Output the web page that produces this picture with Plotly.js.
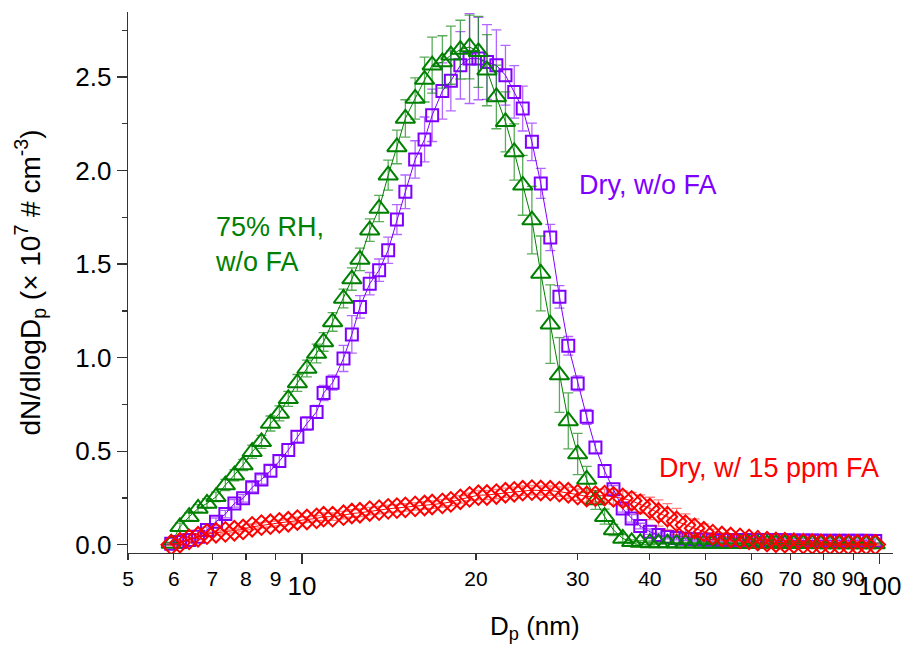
<!DOCTYPE html>
<html>
<head>
<meta charset="utf-8">
<script src="https://cdn.plot.ly/plotly-3.0.1.min.js"></script>
<style>html,body{margin:0;padding:0;background:#fff}#chart{width:917px;height:645px}</style>
</head>
<body>
<div id="chart"></div>
<script>
// Particle diameter bins (nm)
const diameters = [5.94,6.15,6.38,6.61,6.85,7.10,7.37,7.64,7.91,8.20,8.51,8.82,9.14,9.47,9.82,
  10.2,10.6,10.9,11.3,11.8,12.2,12.6,13.1,13.6,14.1,14.6,15.1,15.7,16.3,16.8,17.5,18.1,18.8,19.5,
  20.2,20.9,21.7,22.5,23.3,24.1,25.0,25.9,26.9,27.9,28.9,30.0,31.1,32.2,33.4,34.6,35.9,37.2,38.5,
  40.0,41.4,42.9,44.5,46.1,47.8,49.6,51.4,53.3,55.2,57.3,59.4,61.5,63.8,66.1,68.5,71.0,73.7,76.4,
  79.1,82.0,85.1,88.2,91.4,94.7,98.2];

// Dry, w/o FA (x 10^7 # cm^-3)
const dryNoFA = [0.005,0.015,0.025,0.043,0.079,0.123,0.164,0.221,0.248,0.307,0.349,0.395,0.447,0.506,0.577,
  0.648,0.710,0.811,0.866,0.996,1.124,1.271,1.395,1.467,1.574,1.738,1.886,2.059,2.166,2.295,2.425,2.479,2.562,2.598,
  2.598,2.580,2.562,2.509,2.420,2.331,2.153,1.931,1.642,1.325,1.063,0.862,0.684,0.520,0.394,0.296,0.194,0.141,0.100,
  0.070,0.052,0.042,0.036,0.032,0.030,0.028,0.027,0.026,0.026,0.025,0.025,0.025,0.024,0.024,0.024,0.023,0.023,0.023,
  0.022,0.022,0.022,0.021,0.021,0.021,0.020];
const dryNoFAErr = [0.005,0.01,0.01,0.015,0.015,0.02,0.02,0.02,0.02,0.025,0.025,0.03,0.03,0.03,0.03,
  0.035,0.035,0.04,0.04,0.07,0.10,0.06,0.06,0.06,0.07,0.08,0.09,0.10,0.12,0.14,0.15,0.16,0.18,0.24,
  0.22,0.20,0.19,0.16,0.14,0.12,0.10,0.08,0.07,0.06,0.05,0.04,0.04,0.03,0.03,0.02,0.02,0.02,0.015,
  0.015,0.01,0.01,0.01,0.01,0.01,0.01,0.01,0.01,0.01,0.01,0.01,0.01,0.01,0.01,0.01,0.01,0.01,0.01,
  0.01,0.01,0.01,0.01,0.01,0.01,0.01];

// 75% RH, w/o FA
const rhNoFA = [0.007,0.096,0.150,0.194,0.221,0.256,0.319,0.372,0.426,0.497,0.550,0.648,0.702,0.780,0.865,
  0.942,1.022,1.084,1.191,1.316,1.420,1.525,1.681,1.797,1.975,2.126,2.278,2.385,2.486,2.563,2.580,2.616,2.646,2.660,
  2.634,2.536,2.393,2.260,2.099,1.921,1.735,1.450,1.179,0.907,0.662,0.485,0.349,0.239,0.150,0.079,0.034,0.016,0.012,
  0.010,0.009,0.009,0.008,0.008,0.008,0.007,0.007,0.007,0.006,0.006,0.006,0.006,0.005,0.005,0.005,0.005,0.005,0.005,
  0.004,0.004,0.004,0.004,0.004,0.004,0.004];
const rhNoFAErr = [0.005,0.02,0.02,0.02,0.025,0.025,0.03,0.03,0.03,0.035,0.035,0.04,0.04,0.04,0.045,
  0.045,0.05,0.05,0.05,0.05,0.06,0.06,0.06,0.07,0.08,0.09,0.10,0.11,0.12,0.15,0.14,0.155,0.157,0.17,
  0.19,0.19,0.17,0.16,0.15,0.16,0.18,0.20,0.21,0.20,0.15,0.11,0.07,0.05,0.04,0.03,0.02,0.01,0.01,
  0.01,0.005,0.005,0.005,0.005,0.005,0.005,0.005,0.005,0.005,0.005,0.005,0.005,0.005,0.005,0.005,0.005,0.005,0.005,
  0.005,0.005,0.005,0.005,0.005,0.005,0.005];

// Dry, w/ 15 ppm FA
const dryFA = [0.000,0.011,0.029,0.043,0.057,0.064,0.069,0.075,0.082,0.096,0.105,0.110,0.117,0.123,0.132,
  0.135,0.141,0.150,0.150,0.158,0.167,0.171,0.180,0.185,0.192,0.196,0.200,0.205,0.210,0.215,0.221,0.229,0.243,0.256,
  0.265,0.266,0.271,0.278,0.283,0.289,0.292,0.290,0.289,0.284,0.278,0.268,0.258,0.260,0.263,0.256,0.248,0.235,0.217,
  0.194,0.170,0.150,0.125,0.105,0.088,0.070,0.054,0.044,0.039,0.034,0.029,0.022,0.017,0.013,0.011,0.008,0.006,0.004,
  0.003,0.002,0.002,0.001,0.001,0.001,0.001];
const dryFAErr = [0.005,0.01,0.01,0.01,0.01,0.01,0.01,0.01,0.01,0.015,0.015,0.015,0.015,0.015,0.015,
  0.015,0.015,0.02,0.02,0.02,0.02,0.02,0.02,0.02,0.02,0.02,0.02,0.02,0.02,0.02,0.02,0.02,0.02,0.02,
  0.025,0.025,0.025,0.025,0.025,0.025,0.025,0.025,0.025,0.025,0.03,0.03,0.03,0.03,0.035,0.04,0.04,0.045,0.05,
  0.06,0.07,0.07,0.07,0.06,0.05,0.04,0.03,0.02,0.02,0.015,0.015,0.01,0.01,0.01,0.01,0.01,0.01,0.01,
  0.005,0.005,0.005,0.005,0.005,0.005,0.005];

const smallTicks = [5,6,7,8,9,20,30,40,50,60,70,80,90];
const bigTicks = [10,100];

const PURPLE = '#8000ff', GREEN = '#008000', RED = '#ff0000';
const FONT = 'Arial, "Liberation Sans", sans-serif';

function series(y, err, color, errColor, symbol, size) {
  return {
    x: diameters, y: y, type: 'scatter', mode: 'lines+markers',
    line: {color: color, width: 1},
    marker: {symbol: symbol, size: size, color: color, line: {color: color, width: 2}},
    error_y: {type: 'data', array: err, visible: true, color: errColor, thickness: 1.3, width: 5},
    hoverinfo: 'x+y', showlegend: false
  };
}

const traces = [
  series(dryNoFA, dryNoFAErr, PURPLE, 'rgba(128,0,255,0.6)', 'square-open', 12),
  series(rhNoFA, rhNoFAErr, GREEN, 'rgba(0,128,0,0.65)', 'triangle-up-open', 17),
  series(dryFA, dryFAErr, RED, 'rgba(255,0,0,0.5)', 'diamond-open', 15),
  {x: [], y: [], xaxis: 'x2', yaxis: 'y', type: 'scatter', mode: 'markers', showlegend: false}
];

const xr = [Math.log10(5), Math.log10(105.4)];
const layout = {
  width: 917, height: 645,
  margin: {l: 128, r: 24, t: 12, b: 92},
  paper_bgcolor: '#fff', plot_bgcolor: '#fff',
  font: {family: FONT, color: '#000'},
  showlegend: false,
  xaxis: {
    type: 'log', range: xr, tickmode: 'array', tickvals: smallTicks,
    ticktext: smallTicks.map(String),
    ticks: 'outside', ticklen: 6, tickwidth: 1.3, tickcolor: '#333',
    showline: true, linecolor: '#333', linewidth: 1.3,
    showgrid: false, zeroline: false,
    tickfont: {size: 21, family: FONT, color: '#000'}
  },
  xaxis2: {
    type: 'log', range: xr, overlaying: 'x', anchor: 'y', side: 'bottom',
    tickmode: 'array', tickvals: bigTicks, ticktext: bigTicks.map(String),
    ticks: 'outside', ticklen: 10, tickwidth: 1.3, tickcolor: '#333',
    showline: false, showgrid: false, zeroline: false,
    tickfont: {size: 26, family: FONT, color: '#000'}
  },
  yaxis: {
    range: [-0.044, 2.847], tickmode: 'linear', tick0: 0, dtick: 0.5, tickformat: '.1f',
    ticks: 'outside', ticklen: 10, tickwidth: 1.3, tickcolor: '#333',
    minor: {dtick: 0.25, tick0: 0, ticks: 'outside', ticklen: 5, tickwidth: 1.3, tickcolor: '#333', showgrid: false},
    showline: true, linecolor: '#333', linewidth: 1.3,
    showgrid: false, zeroline: false,
    tickfont: {size: 26, family: FONT, color: '#000'},
    title: {text: 'dN/dlogD<sub>p</sub> (× 10<sup>7</sup> # cm<sup>-3</sup>)', font: {size: 28, family: FONT, color: '#000'}, standoff: 26}
  },
  annotations: [
    {text: 'D<sub>p</sub> (nm)', xref: 'paper', yref: 'paper', x: 0.532, y: -0.137,
     xanchor: 'center', yanchor: 'middle', showarrow: false, font: {size: 26, family: FONT, color: '#000'}},
    {text: '75% RH,<br>w/o FA', xref: 'paper', yref: 'paper', x: 0.111, y: 0.571,
     xanchor: 'left', yanchor: 'middle', align: 'left', showarrow: false, font: {size: 27, family: FONT, color: GREEN}},
    {text: 'Dry, w/o FA', xref: 'paper', yref: 'paper', x: 0.5865, y: 0.680,
     xanchor: 'left', yanchor: 'middle', showarrow: false, font: {size: 27, family: FONT, color: PURPLE}},
    {text: 'Dry, w/ 15 ppm FA', xref: 'paper', yref: 'paper', x: 0.692, y: 0.158,
     xanchor: 'left', yanchor: 'middle', showarrow: false, font: {size: 27, family: FONT, color: RED}}
  ]
};

Plotly.newPlot('chart', traces, layout, {displayModeBar: false, staticPlot: true});
</script>
</body>
</html>
